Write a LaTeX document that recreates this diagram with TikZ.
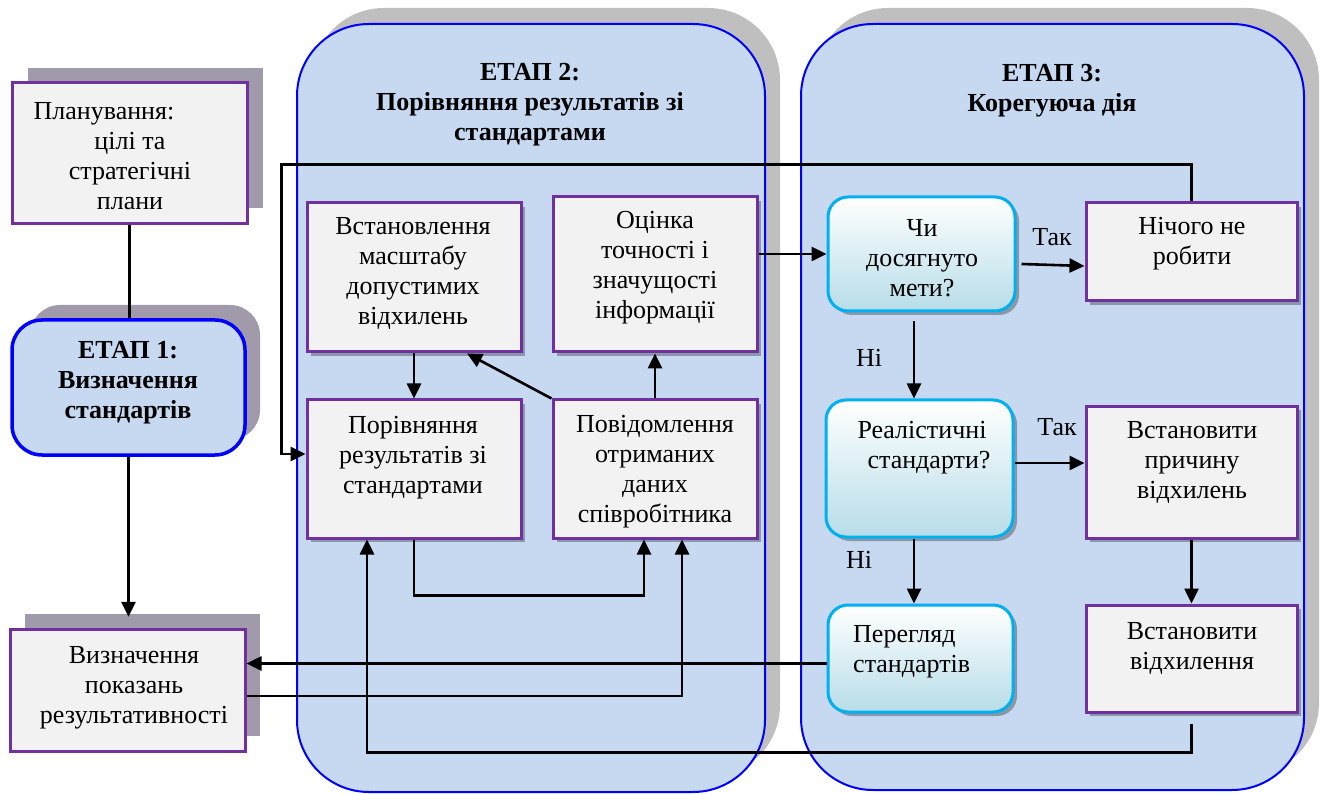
\documentclass[tikz,border=0pt]{standalone}
\usepackage{fontspec}
\setmainfont{Liberation Serif}
\usetikzlibrary{arrows.meta,shadows}
\definecolor{stfill}{HTML}{C6D9F1}
\definecolor{stborder}{HTML}{0000FF}
\definecolor{pborder}{HTML}{7030A0}
\definecolor{pfill}{HTML}{F2F2F2}
\definecolor{oshadow}{HTML}{A09AAA}
\definecolor{cshadow}{HTML}{BFBFBF}
\definecolor{cyanb}{HTML}{00B0F0}
\definecolor{gradb}{HTML}{B7DDE8}
\begin{document}
\begin{tikzpicture}[x=1pt,y=-1pt,
  txt/.style={font=\fontsize{26}{30}\selectfont, align=center, inner sep=0pt},
  btxt/.style={txt, font=\bfseries\fontsize{26}{30}\selectfont},
  pbox/.style={draw=pborder, line width=3pt, fill=pfill, inner sep=0pt},
  ibox/.style={pbox, drop shadow={shadow xshift=4pt, shadow yshift=-4pt, fill=black, opacity=0.3}},
  cbox/.style={draw=cyanb, line width=3pt, rounded corners=20pt, top color=white, bottom color=gradb, inner sep=0pt,
     drop shadow={shadow xshift=4pt, shadow yshift=-4pt, fill=black, opacity=0.3}},
  stage/.style={draw=stborder, line width=2pt, fill=stfill, rounded corners=72pt},
  arr/.style={draw=black, line width=2.6pt, -{Triangle[length=15pt,width=14pt]}},
  ln/.style={draw=black, line width=2.6pt},
]
\useasboundingbox (0,0) rectangle (1326,794);

% stage containers
\fill[cshadow, rounded corners=72pt] (312,8) rectangle (780,777);
\path[stage] (297,24) rectangle (765,792);
\fill[cshadow, rounded corners=72pt] (816,8) rectangle (1319,775);
\path[stage] (801,24) rectangle (1304,790);

\node[btxt] (t2) at (530,105) {ЕТАП 2:\\Порівняння результатів зі\\стандартами};
\node[btxt] (t3) at (1052,91) {ЕТАП 3:\\Корегуюча дія};

% left column
\fill[oshadow] (28,68) rectangle (263,208);
\node[pbox, minimum width=235pt, minimum height=141pt] (plan) at (129.5,153.5) {};
\node[txt] (plant) at (130,156.5) {Планування:\hspace*{52pt}\\цілі та\\стратегічні\\плани};

\fill[oshadow, rounded corners=30pt] (30,305) rectangle (260,440);
\node[draw=stborder, line width=3.5pt, fill=stfill, rounded corners=30pt, minimum width=233pt, minimum height=135pt, inner sep=0pt] (et1) at (128.5,387.5) {};
\node[btxt] (et1t) at (128,383) {ЕТАП 1:\\Визначення\\стандартів};

\fill[oshadow] (25,614) rectangle (260,736);
\node[pbox, minimum width=235pt, minimum height=122pt] (ind) at (127.5,690) {};
\node[txt] (indt) at (134,688) {Визначення\\показань\\результативності};

% stage 2 boxes
\node[ibox, minimum width=214pt, minimum height=149pt] (vst) at (414,277.5) {};
\node[txt] (vstt) at (413,273.5) {Встановлення\\масштабу\\допустимих\\відхилень};
\node[ibox, minimum width=204pt, minimum height=155pt] (ots) at (655,274.5) {};
\node[txt] (otst) at (655,268) {Оцінка\\точності і\\значущості\\інформації};
\node[ibox, minimum width=214pt, minimum height=138pt] (por) at (414,469) {};
\node[txt] (port) at (413,458) {Порівняння\\результатів зі\\стандартами};
\node[ibox, minimum width=204pt, minimum height=138pt] (pov) at (655,469) {};
\node[txt] (povt) at (655,472) {Повідомлення\\отриманих\\даних\\співробітника};

% stage 3 boxes
\node[cbox, minimum width=187pt, minimum height=114pt] (chi) at (921.5,254) {};
\node[txt] (chit) at (922,258) {Чи\\досягнуто\\мети?};
\node[ibox, minimum width=211pt, minimum height=98pt] (nich) at (1191.5,252) {};
\node[txt] (nicht) at (1192,243.5) {Нічого не\\робити};
\node[cbox, minimum width=187pt, minimum height=137pt] (real) at (919.5,468.5) {};
\node[txt] (realt) at (922,447.5) {Реалістичні\\\hspace*{14pt}стандарти?};
\node[ibox, minimum width=211pt, minimum height=132pt] (vpr) at (1191.5,472) {};
\node[txt] (vprt) at (1192,463) {Встановити\\причину\\відхилень};
\node[cbox, minimum width=185pt, minimum height=107pt] (per) at (920.5,658.5) {};
\node[txt, align=left, anchor=west] (pert) at (853,652) {Перегляд\\стандартів};
\node[ibox, minimum width=211pt, minimum height=107pt] (vvid) at (1191.5,658.5) {};
\node[txt] (vvidt) at (1192,648) {Встановити\\відхилення};

% labels
\node[txt] (yes1) at (1052,237) {Так};
\node[txt] (yes2) at (1057,427) {Так};
\node[txt] (no1) at (869,358) {Ні};
\node[txt] (no2) at (859,560) {Ні};

% connectors left
\draw[ln] (plan.south) -- (plan.south |- et1.north);
\draw[arr] (et1.south) -- ++(0,160);

% stage 2 connectors
\draw[arr] (vst.south) -- (por.north);
\draw[arr] (pov.north west) -- ([xshift=53pt]vst.south);
\draw[arr] (pov.north) -- (ots.south);
\draw[arr] (por.south) -- ++(0,56) -| ([xshift=-11pt]pov.south);

\coordinate (p2) at ([yshift=-6pt]ind.east);
\coordinate (p3) at ([xshift=27pt]pov.south);
\draw[arr] (p2) -- (p2 -| p3) -- (p3);

\coordinate (p1) at ([yshift=-5pt]per.west);
\draw[arr] (p1) -- (p1 -| ind.east);

\draw[arr] ([yshift=-10pt]vvid.south) -- ++(0,29) -| ([xshift=-47pt]por.south);

\coordinate (lp) at ([xshift=-24pt,yshift=15pt]por.west);
\draw[arr] (nich.north) -- ++(0,-37) -| (lp) -- ([yshift=15pt]por.west);

\draw[arr] (ots.east |- chi.west) -- (chi.west);

% stage 3 connectors
\draw[arr] ([xshift=5pt,yshift=-10pt]chi.east) -- ([yshift=-14pt]nich.west);
\draw[arr] ([xshift=-7.5pt,yshift=-9pt]chi.south) -- ([xshift=-5.5pt]real.north);
\draw[arr] ([yshift=5.5pt]real.east) -- ([yshift=9pt]vpr.west);
\draw[arr] ([xshift=-5.5pt]real.south) -- ([xshift=-6.5pt]per.north);
\draw[arr] (vpr.south) -- (vvid.north);
\end{tikzpicture}
\end{document}
